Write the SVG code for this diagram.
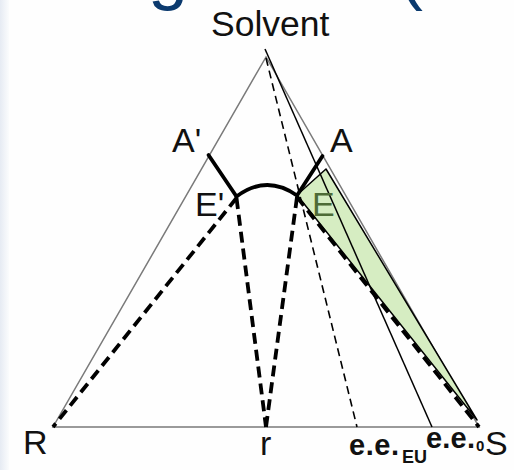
<svg xmlns="http://www.w3.org/2000/svg" width="514" height="470" viewBox="0 0 514 470">
  <defs>
    <linearGradient id="edge" x1="0" y1="0" x2="1" y2="0">
      <stop offset="0" stop-color="#e6ebf3"/>
      <stop offset="1" stop-color="#fbfcfd"/>
    </linearGradient>
  </defs>
  <style>
    .lbl { font-family: "Liberation Sans", Arial, sans-serif; font-size: 34px; fill: #111; }
    .ee { font-family: "Liberation Sans", Arial, sans-serif; font-size: 29px; font-weight: bold; fill: #111; }
    .sub { font-family: "Liberation Sans", Arial, sans-serif; font-weight: bold; fill: #111; }
    .title { font-family: "Liberation Sans", Arial, sans-serif; font-size: 72px; fill: #0b3a6e; }
    .edge { stroke: #7a7a7a; stroke-width: 1.5; fill: none; }
    .thin { stroke: #000; stroke-width: 1.5; fill: none; }
    .thindash { stroke: #000; stroke-width: 1.6; fill: none; stroke-dasharray: 8 5; }
    .thick { stroke: #000; stroke-width: 3.8; fill: none; stroke-linecap: round; }
    .thickdash { stroke: #000; stroke-width: 3.8; fill: none; stroke-dasharray: 11 6; }
  </style>
  <rect x="0" y="0" width="514" height="470" fill="#fefefe"/>
  <rect x="0" y="0" width="9" height="470" fill="url(#edge)"/>

  <g id="title-fragment">
    <text class="title" x="148" y="-4">g</text>
    <text class="title" x="399" y="-4">(</text>
  </g>

  <g id="triangle">
    <polygon class="edge" points="266,57 53,427 479,427"/>
  </g>

  <g id="tie-region">
    <polygon points="297,195 326,169 477,420" fill="#d6edc2" stroke="#000" stroke-width="1.5" stroke-linejoin="round"/>
  </g>

  <g id="connectors">
    <line class="thin" x1="265" y1="49" x2="432" y2="427"/>
    <line class="thindash" x1="266" y1="58" x2="357" y2="427"/>
    <line class="thick" x1="208.5" y1="155" x2="236.5" y2="196.5"/>
    <line class="thick" x1="297" y1="195.5" x2="322.5" y2="156"/>
    <path class="thick" d="M236.5,196.5 Q266.5,174 297,195.5"/>
    <line class="thickdash" x1="236.5" y1="198" x2="53" y2="427"/>
    <line class="thickdash" x1="297" y1="197" x2="479" y2="427"/>
    <line class="thickdash" x1="236.5" y1="198" x2="266" y2="427"/>
    <line class="thickdash" x1="297" y1="197" x2="266" y2="427"/>
  </g>

  <g id="node-solvent"><text class="lbl" x="211" y="36" style="font-size:35.5px">Solvent</text></g>
  <g id="node-A-prime"><text class="lbl" x="172" y="152">A'</text></g>
  <g id="node-A"><text class="lbl" x="330" y="152">A</text></g>
  <g id="node-E-prime"><text class="lbl" x="195" y="216">E'</text></g>
  <g id="node-E"><text class="lbl" x="312" y="216" style="fill:#4d6b36">E</text></g>
  <g id="node-R"><text class="lbl" x="23" y="454">R</text></g>
  <g id="node-r"><text class="lbl" x="260" y="455">r</text></g>
  <g id="node-S"><text class="lbl" x="485" y="455">S</text></g>
  <g id="node-eeEU">
    <text class="ee" x="349" y="455" textLength="50" lengthAdjust="spacing">e.e.</text>
    <text class="sub" x="402" y="463" style="font-size:18px">EU</text>
  </g>
  <g id="node-ee0">
    <text class="ee" x="426" y="448" textLength="49" lengthAdjust="spacing">e.e.</text>
    <text class="sub" x="476" y="451" style="font-size:15px">0</text>
  </g>
</svg>
